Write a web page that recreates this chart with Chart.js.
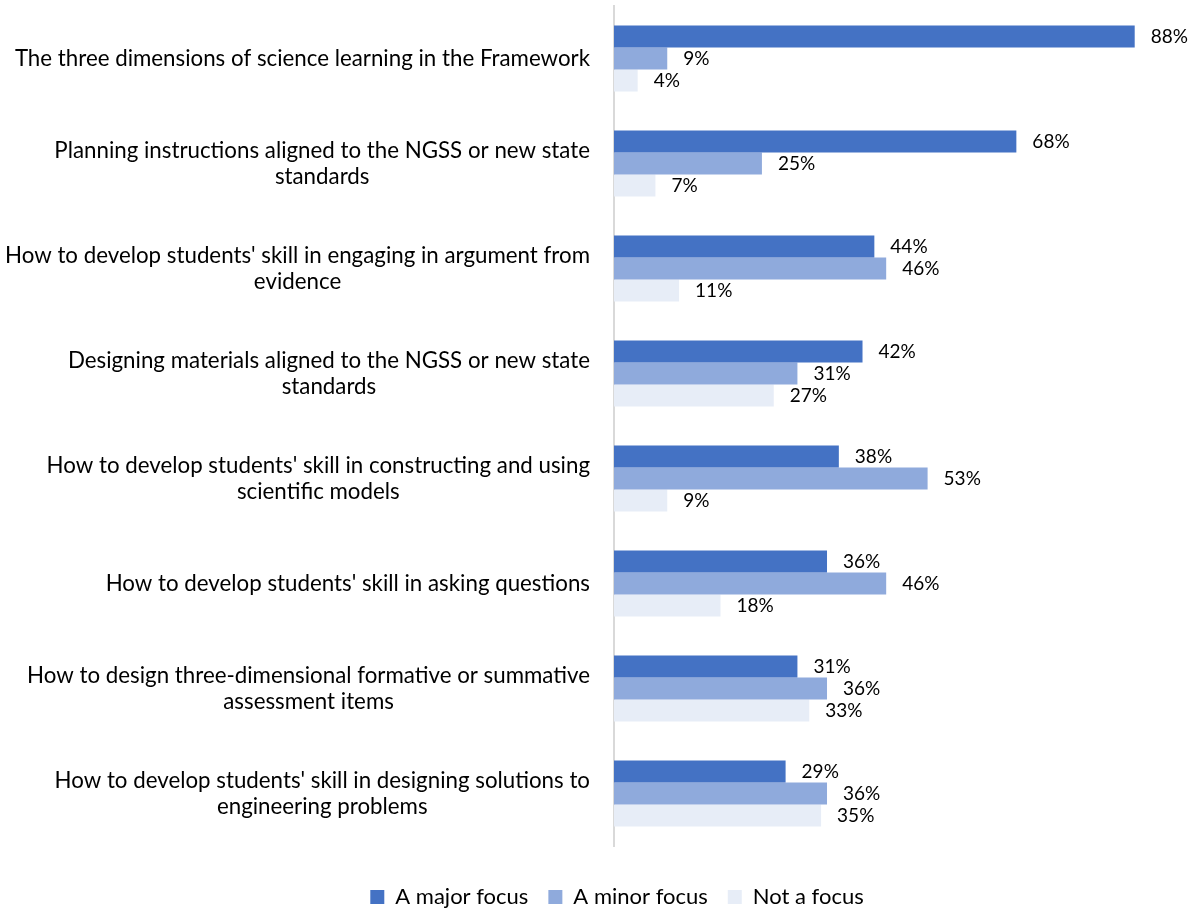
<!DOCTYPE html>
<html>
<head>
<meta charset="utf-8">
<script src="https://cdn.jsdelivr.net/npm/chart.js@4.4.1/dist/chart.umd.min.js"></script>
<style>
  html, body { margin: 0; padding: 0; background: #ffffff; }
  #wrap { width: 1196px; height: 911px; position: relative; }
</style>
</head>
<body>
<div id="wrap"><canvas id="c"></canvas></div>
<script>
const categories = [
  ["The three dimensions of science learning in the Framework"],
  ["Planning instructions aligned to the NGSS or new state", "standards"],
  ["How to develop students' skill in engaging in argument from", "evidence"],
  ["Designing materials aligned to the NGSS or new state", "standards"],
  ["How to develop students' skill in constructing and using", "scientific models"],
  ["How to develop students' skill in asking questions"],
  ["How to design three-dimensional formative or summative", "assessment items"],
  ["How to develop students' skill in designing solutions to", "engineering problems"]
];
const seriesNames = ["A major focus", "A minor focus", "Not a focus"];
const majorFocus = [88, 68, 44, 42, 38, 36, 31, 29];
const minorFocus = [9, 25, 46, 31, 53, 46, 36, 36];
const notFocus   = [4, 7, 11, 27, 9, 18, 33, 35];
const seriesColors = ["#4472C4", "#8FAADC", "#E7EDF7"];

const FONT = "Lato, 'Open Sans', sans-serif";
const LABEL_SIZE = 22.3;
const DATA_SIZE = 19;
const LEGEND_SIZE = 22;

const categoryLabelPlugin = {
  id: 'categoryLabels',
  afterDraw(chart) {
    const ctx = chart.ctx;
    const y = chart.scales.y;
    const rightEdge = chart.chartArea.left - 24;
    const lineH = 26;
    ctx.save();
    ctx.font = LABEL_SIZE + "px " + FONT;
    ctx.fillStyle = "#000000";
    ctx.textAlign = "center";
    ctx.textBaseline = "middle";
    categories.forEach((lines, i) => {
      const cy = y.getPixelForTick(i);
      let maxW = 0;
      lines.forEach(l => { maxW = Math.max(maxW, ctx.measureText(l).width); });
      const cx = rightEdge - maxW / 2;
      lines.forEach((l, j) => {
        ctx.fillText(l, cx, cy + (j - (lines.length - 1) / 2) * lineH);
      });
    });
    ctx.restore();
  }
};

const valueLabelPlugin = {
  id: 'valueLabels',
  afterDatasetsDraw(chart) {
    const ctx = chart.ctx;
    ctx.save();
    ctx.font = DATA_SIZE + "px " + FONT;
    ctx.fillStyle = "#000000";
    ctx.textAlign = "left";
    ctx.textBaseline = "middle";
    chart.data.datasets.forEach((ds, di) => {
      const meta = chart.getDatasetMeta(di);
      meta.data.forEach((el, i) => {
        ctx.fillText(ds.data[i] + "%", el.x + 16, el.y);
      });
    });
    ctx.restore();
  }
};

new Chart(document.getElementById('c'), {
  type: 'bar',
  data: {
    labels: categories,
    datasets: [
      { label: seriesNames[0], data: majorFocus, backgroundColor: seriesColors[0] },
      { label: seriesNames[1], data: minorFocus, backgroundColor: seriesColors[1] },
      { label: seriesNames[2], data: notFocus, backgroundColor: seriesColors[2] }
    ]
  },
  options: {
    indexAxis: 'y',
    responsive: true,
    maintainAspectRatio: false,
    animation: false,
    layout: { padding: { top: 6, right: 0, left: 38, bottom: -7 } },
    datasets: { bar: { barPercentage: 1.0, categoryPercentage: 0.629, borderWidth: 0 } },
    scales: {
      x: {
        display: true,
        min: 0, max: 98.36,
        grid: { display: false },
        border: { display: false },
        ticks: { display: false },
        afterFit: (s) => { s.height = 20; }
      },
      y: {
        grid: { display: false },
        border: { display: true, color: '#D9D9D9', width: 2 },
        ticks: { display: false },
        afterFit: (s) => { s.width = 576; }
      }
    },
    plugins: {
      legend: {
        position: 'bottom',
        labels: {
          boxWidth: 14, boxHeight: 14,
          padding: 20,
          color: '#000000',
          font: { family: FONT, size: LEGEND_SIZE }
        }
      },
      tooltip: { enabled: false }
    }
  },
  plugins: [categoryLabelPlugin, valueLabelPlugin]
});
</script>
</body>
</html>
